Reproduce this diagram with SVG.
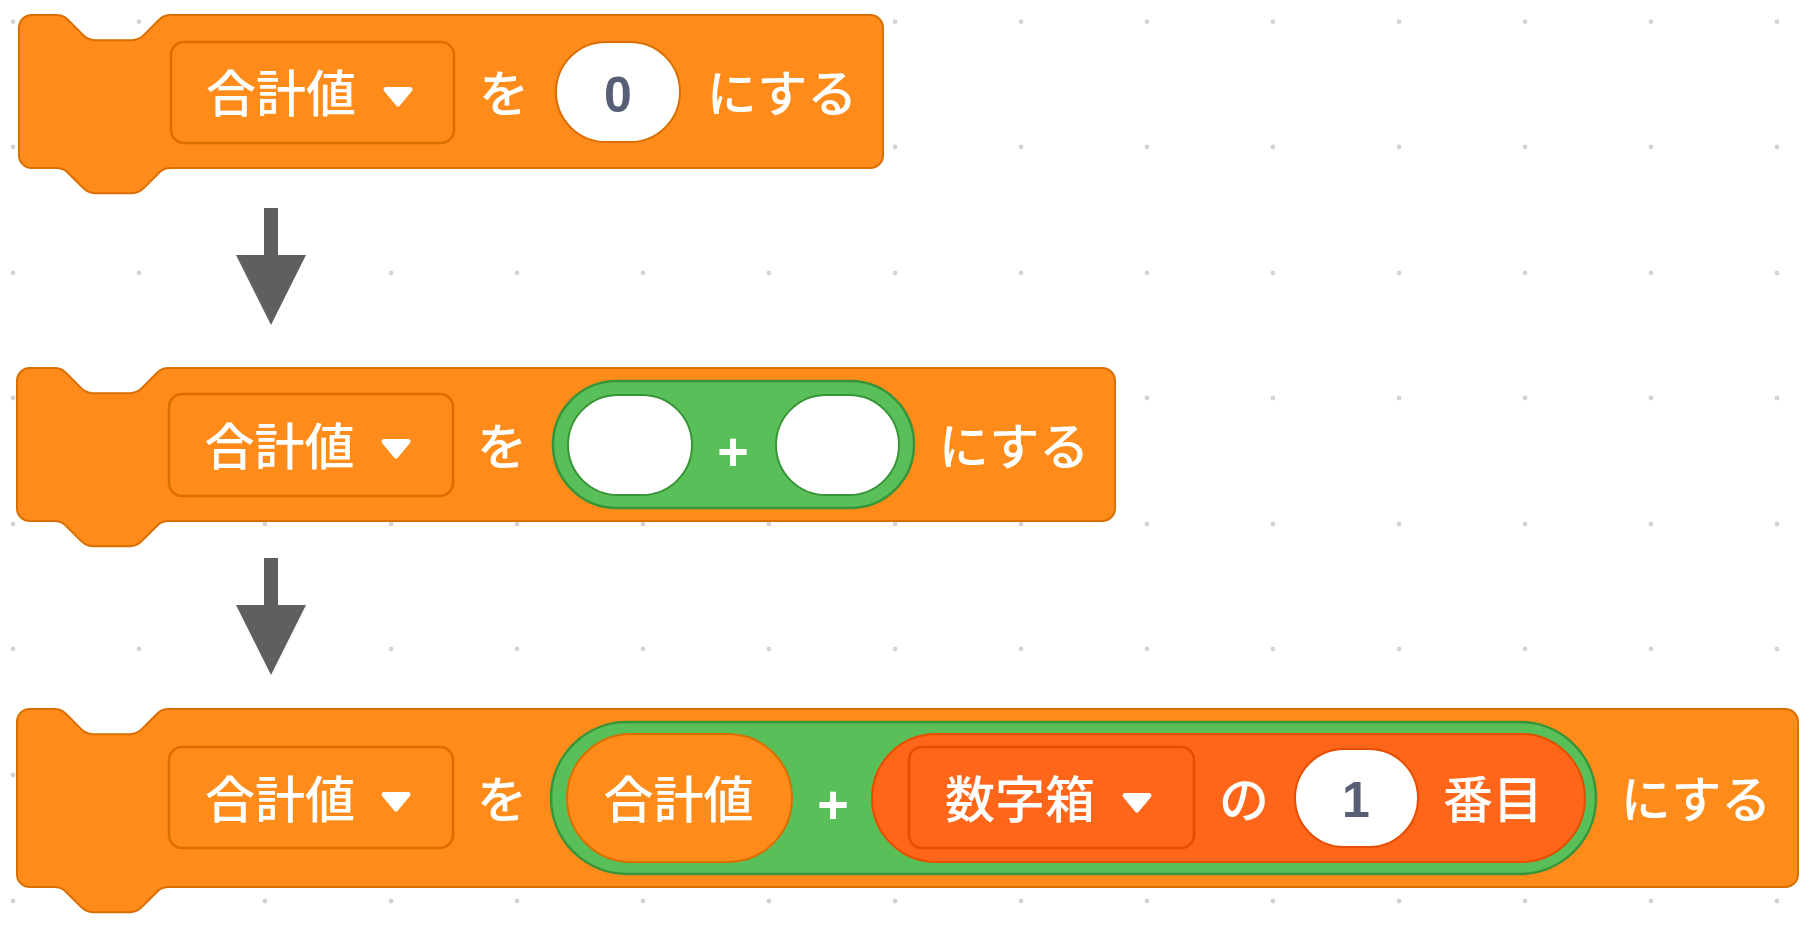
<svg xmlns="http://www.w3.org/2000/svg" xmlns:xlink="http://www.w3.org/1999/xlink" width="1819" height="925" viewBox="0 0 1819 925">
<style>
.blk{fill:#FF8C1A;stroke:#DB6E00;stroke-width:2}
.dd{fill:#FF8C1A;stroke:#DB6E00;stroke-width:2.5}
.ddl{fill:#FF661A;stroke:#E64D00;stroke-width:2.5}
.op{fill:#59C059;stroke:#389438;stroke-width:2.5}
.varr{fill:#FF8C1A;stroke:#DB6E00;stroke-width:2}
.lst{fill:#FF661A;stroke:#E64D00;stroke-width:2}
.inO{fill:#FFFFFF;stroke:#DB6E00;stroke-width:2}
.inG{fill:#FFFFFF;stroke:#389438;stroke-width:2}
.inL{fill:#FFFFFF;stroke:#E64D00;stroke-width:2}
.t{fill:#FFFFFF;font-family:"Noto Sans CJK JP","Noto Sans",sans-serif;font-size:50px;font-weight:500;text-anchor:middle}
.num{fill:#575E75;font-family:"Liberation Sans",Arial,sans-serif;font-size:50px;font-weight:bold;text-anchor:middle}
.plus{fill:#FFFFFF;font-family:"Liberation Sans",Arial,sans-serif;font-size:54px;font-weight:bold;text-anchor:middle}
.tri{fill:#FFFFFF;stroke:#FFFFFF;stroke-width:5;stroke-linejoin:round}
.arr{fill:#5F5F5F}
.dot{fill:#D4D4D4}
</style>
<defs>
<circle id="d" r="2.4" class="dot"/>
</defs>
<rect width="1819" height="925" fill="#FFFFFF"/>
<g id="grid">
<use xlink:href="#d" x="13" y="21.7"/><use xlink:href="#d" x="139" y="21.7"/><use xlink:href="#d" x="265" y="21.7"/><use xlink:href="#d" x="391" y="21.7"/><use xlink:href="#d" x="517" y="21.7"/><use xlink:href="#d" x="643" y="21.7"/><use xlink:href="#d" x="769" y="21.7"/><use xlink:href="#d" x="895" y="21.7"/><use xlink:href="#d" x="1021" y="21.7"/><use xlink:href="#d" x="1147" y="21.7"/><use xlink:href="#d" x="1273" y="21.7"/><use xlink:href="#d" x="1399" y="21.7"/><use xlink:href="#d" x="1525" y="21.7"/><use xlink:href="#d" x="1651" y="21.7"/><use xlink:href="#d" x="1777" y="21.7"/>
<use xlink:href="#d" x="13" y="147"/><use xlink:href="#d" x="139" y="147"/><use xlink:href="#d" x="265" y="147"/><use xlink:href="#d" x="391" y="147"/><use xlink:href="#d" x="517" y="147"/><use xlink:href="#d" x="643" y="147"/><use xlink:href="#d" x="769" y="147"/><use xlink:href="#d" x="895" y="147"/><use xlink:href="#d" x="1021" y="147"/><use xlink:href="#d" x="1147" y="147"/><use xlink:href="#d" x="1273" y="147"/><use xlink:href="#d" x="1399" y="147"/><use xlink:href="#d" x="1525" y="147"/><use xlink:href="#d" x="1651" y="147"/><use xlink:href="#d" x="1777" y="147"/>
<use xlink:href="#d" x="13" y="273"/><use xlink:href="#d" x="139" y="273"/><use xlink:href="#d" x="265" y="273"/><use xlink:href="#d" x="391" y="273"/><use xlink:href="#d" x="517" y="273"/><use xlink:href="#d" x="643" y="273"/><use xlink:href="#d" x="769" y="273"/><use xlink:href="#d" x="895" y="273"/><use xlink:href="#d" x="1021" y="273"/><use xlink:href="#d" x="1147" y="273"/><use xlink:href="#d" x="1273" y="273"/><use xlink:href="#d" x="1399" y="273"/><use xlink:href="#d" x="1525" y="273"/><use xlink:href="#d" x="1651" y="273"/><use xlink:href="#d" x="1777" y="273"/>
<use xlink:href="#d" x="13" y="398"/><use xlink:href="#d" x="139" y="398"/><use xlink:href="#d" x="265" y="398"/><use xlink:href="#d" x="391" y="398"/><use xlink:href="#d" x="517" y="398"/><use xlink:href="#d" x="643" y="398"/><use xlink:href="#d" x="769" y="398"/><use xlink:href="#d" x="895" y="398"/><use xlink:href="#d" x="1021" y="398"/><use xlink:href="#d" x="1147" y="398"/><use xlink:href="#d" x="1273" y="398"/><use xlink:href="#d" x="1399" y="398"/><use xlink:href="#d" x="1525" y="398"/><use xlink:href="#d" x="1651" y="398"/><use xlink:href="#d" x="1777" y="398"/>
<use xlink:href="#d" x="13" y="524"/><use xlink:href="#d" x="139" y="524"/><use xlink:href="#d" x="265" y="524"/><use xlink:href="#d" x="391" y="524"/><use xlink:href="#d" x="517" y="524"/><use xlink:href="#d" x="643" y="524"/><use xlink:href="#d" x="769" y="524"/><use xlink:href="#d" x="895" y="524"/><use xlink:href="#d" x="1021" y="524"/><use xlink:href="#d" x="1147" y="524"/><use xlink:href="#d" x="1273" y="524"/><use xlink:href="#d" x="1399" y="524"/><use xlink:href="#d" x="1525" y="524"/><use xlink:href="#d" x="1651" y="524"/><use xlink:href="#d" x="1777" y="524"/>
<use xlink:href="#d" x="13" y="649"/><use xlink:href="#d" x="139" y="649"/><use xlink:href="#d" x="265" y="649"/><use xlink:href="#d" x="391" y="649"/><use xlink:href="#d" x="517" y="649"/><use xlink:href="#d" x="643" y="649"/><use xlink:href="#d" x="769" y="649"/><use xlink:href="#d" x="895" y="649"/><use xlink:href="#d" x="1021" y="649"/><use xlink:href="#d" x="1147" y="649"/><use xlink:href="#d" x="1273" y="649"/><use xlink:href="#d" x="1399" y="649"/><use xlink:href="#d" x="1525" y="649"/><use xlink:href="#d" x="1651" y="649"/><use xlink:href="#d" x="1777" y="649"/>
<use xlink:href="#d" x="13" y="775"/><use xlink:href="#d" x="139" y="775"/><use xlink:href="#d" x="265" y="775"/><use xlink:href="#d" x="391" y="775"/><use xlink:href="#d" x="517" y="775"/><use xlink:href="#d" x="643" y="775"/><use xlink:href="#d" x="769" y="775"/><use xlink:href="#d" x="895" y="775"/><use xlink:href="#d" x="1021" y="775"/><use xlink:href="#d" x="1147" y="775"/><use xlink:href="#d" x="1273" y="775"/><use xlink:href="#d" x="1399" y="775"/><use xlink:href="#d" x="1525" y="775"/><use xlink:href="#d" x="1651" y="775"/><use xlink:href="#d" x="1777" y="775"/>
<use xlink:href="#d" x="13" y="901"/><use xlink:href="#d" x="139" y="901"/><use xlink:href="#d" x="265" y="901"/><use xlink:href="#d" x="391" y="901"/><use xlink:href="#d" x="517" y="901"/><use xlink:href="#d" x="643" y="901"/><use xlink:href="#d" x="769" y="901"/><use xlink:href="#d" x="895" y="901"/><use xlink:href="#d" x="1021" y="901"/><use xlink:href="#d" x="1147" y="901"/><use xlink:href="#d" x="1273" y="901"/><use xlink:href="#d" x="1399" y="901"/><use xlink:href="#d" x="1525" y="901"/><use xlink:href="#d" x="1651" y="901"/><use xlink:href="#d" x="1777" y="901"/>
</g>
<g id="connectors">
<path class="arr" d="M264,208 H278 V255 H306 L271,325 L236,255 H264 Z"/>
<path class="arr" d="M264,558 H278 V605 H306 L271,675 L236,605 H264 Z"/>
</g>
<g id="block1">
<path class="blk" d="M19,27.6 A12.6,12.6 0 0 1 31.6,15 H56.8 c6.3,0 9.45,3.15 12.6,6.3 l12.6,12.6 c3.15,3.15 6.3,6.3 12.6,6.3 h37.8 c6.3,0 9.45,-3.15 12.6,-6.3 l12.6,-12.6 c3.15,-3.15 6.3,-6.3 12.6,-6.3 H870.4 A12.6,12.6 0 0 1 883,27.6 V155.4 A12.6,12.6 0 0 1 870.4,168 H170.2 c-6.3,0 -9.45,3.15 -12.6,6.3 l-12.6,12.6 c-3.15,3.15 -6.3,6.3 -12.6,6.3 h-37.8 c-6.3,0 -9.45,-3.15 -12.6,-6.3 l-12.6,-12.6 c-3.15,-3.15 -6.3,-6.3 -12.6,-6.3 H31.6 A12.6,12.6 0 0 1 19,155.4 Z"/>
<rect class="dd" x="171" y="42" width="283" height="101" rx="13"/>
<text class="t" x="281" y="112">合計値</text>
<path class="tri" d="M386,89.5 H410 L398,104 Z"/>
<text class="t" x="504" y="112">を</text>
<rect class="inO" x="556" y="42" width="124" height="100" rx="50"/>
<text class="num" x="618" y="112">0</text>
<text class="t" x="782" y="112">にする</text>
</g>
<g id="block2">
<path class="blk" d="M17,380.6 A12.6,12.6 0 0 1 29.6,368 H54.8 c6.3,0 9.45,3.15 12.6,6.3 l12.6,12.6 c3.15,3.15 6.3,6.3 12.6,6.3 h37.8 c6.3,0 9.45,-3.15 12.6,-6.3 l12.6,-12.6 c3.15,-3.15 6.3,-6.3 12.6,-6.3 H1102.4 A12.6,12.6 0 0 1 1115,380.6 V508.4 A12.6,12.6 0 0 1 1102.4,521 H168.2 c-6.3,0 -9.45,3.15 -12.6,6.3 l-12.6,12.6 c-3.15,3.15 -6.3,6.3 -12.6,6.3 h-37.8 c-6.3,0 -9.45,-3.15 -12.6,-6.3 l-12.6,-12.6 c-3.15,-3.15 -6.3,-6.3 -12.6,-6.3 H29.6 A12.6,12.6 0 0 1 17,508.4 Z"/>
<rect class="dd" x="169" y="394" width="284" height="102" rx="13"/>
<text class="t" x="279.5" y="465">合計値</text>
<path class="tri" d="M384,441.5 H408 L396,456 Z"/>
<text class="t" x="502" y="465">を</text>
<g id="add2">
<rect class="op" x="553" y="381" width="361" height="127" rx="63.5"/>
<rect class="inG" x="568" y="395" width="124" height="100" rx="50"/>
<text class="plus" x="733" y="470">+</text>
<rect class="inG" x="776" y="395" width="123" height="100" rx="50"/>
</g>
<text class="t" x="1014" y="465">にする</text>
</g>
<g id="block3">
<path class="blk" d="M17,721.6 A12.6,12.6 0 0 1 29.6,709 H54.8 c6.3,0 9.45,3.15 12.6,6.3 l12.6,12.6 c3.15,3.15 6.3,6.3 12.6,6.3 h37.8 c6.3,0 9.45,-3.15 12.6,-6.3 l12.6,-12.6 c3.15,-3.15 6.3,-6.3 12.6,-6.3 H1785.4 A12.6,12.6 0 0 1 1798,721.6 V874.4 A12.6,12.6 0 0 1 1785.4,887 H168.2 c-6.3,0 -9.45,3.15 -12.6,6.3 l-12.6,12.6 c-3.15,3.15 -6.3,6.3 -12.6,6.3 h-37.8 c-6.3,0 -9.45,-3.15 -12.6,-6.3 l-12.6,-12.6 c-3.15,-3.15 -6.3,-6.3 -12.6,-6.3 H29.6 A12.6,12.6 0 0 1 17,874.4 Z"/>
<rect class="dd" x="169" y="747" width="284" height="101" rx="13"/>
<text class="t" x="280" y="818">合計値</text>
<path class="tri" d="M384,794.5 H408 L396,809 Z"/>
<text class="t" x="502" y="818">を</text>
<g id="add3">
<rect class="op" x="551" y="722" width="1045" height="152" rx="76"/>
<g id="var3">
<rect class="varr" x="567" y="734" width="225" height="128" rx="64"/>
<text class="t" x="678.5" y="818">合計値</text>
</g>
<text class="plus" x="833" y="823">+</text>
<g id="item3">
<rect class="lst" x="872" y="734" width="713" height="128" rx="64"/>
<rect class="ddl" x="909" y="747" width="285" height="101" rx="13"/>
<text class="t" x="1020" y="818">数字箱</text>
<path class="tri" d="M1125,795.5 H1149 L1137,810 Z"/>
<text class="t" x="1244" y="818">の</text>
<rect class="inL" x="1295" y="749" width="123" height="98" rx="49"/>
<text class="num" x="1356" y="817">1</text>
<text class="t" x="1493" y="818">番目</text>
</g>
</g>
<text class="t" x="1696" y="818">にする</text>
</g>
</svg>
